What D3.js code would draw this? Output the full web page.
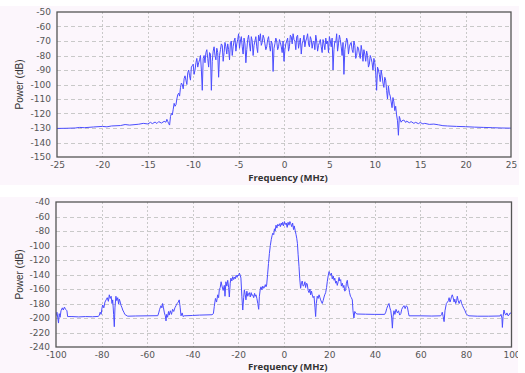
<!DOCTYPE html>
<html>
<head>
<meta charset="utf-8">
<script src="https://cdn.jsdelivr.net/npm/d3@7"></script>
<style>
  html, body { margin: 0; padding: 0; background: #fff; }
  svg { display: block; }
  .tick-label { font-family: "DejaVu Sans", Verdana, sans-serif; font-size: 9px; fill: #555; }
  .x-title { font-family: "Open Sans", "Noto Sans", sans-serif; font-size: 9.5px; font-weight: bold; fill: #333; }
  .y-title { font-family: "Liberation Sans Narrow", "Liberation Sans", sans-serif; font-size: 10px; fill: #333; }
</style>
</head>
<body>
<svg id="chart" width="525" height="373"></svg>
<script>
// ---- data ----
const topXTicks = [-25, -20, -15, -10, -5, 0, 5, 10, 15, 20, 25];
const topYTicks = [-50, -60, -70, -80, -90, -100, -110, -120, -130, -140, -150];
const botXTicks = [-100, -80, -60, -40, -20, 0, 20, 40, 60, 80, 100];
const botYTicks = [-40, -60, -80, -100, -120, -140, -160, -180, -200, -220, -240];

// top trace: [frequency MHz, power dB]
const topLeftTail = [[-25,-130.3],[-24,-130.2],[-23,-130],[-22.5,-129.6],[-22,-129.8],[-21,-129.3],[-20,-128.9],[-19.5,-129.2],[-19,-128.6],[-18,-128.3],[-17.5,-127.6],[-17,-128],[-16,-127.4],[-15.5,-126.8],[-15,-127.2],[-14.7,-126.1],[-14.5,-127],[-14.2,-125.9],[-14,-126.9],[-13.8,-125.6],[-13.5,-126.6],[-13.2,-125.4]];
const topBand = [[-13,-126],[-12.8,-125.5],[-12.6,-128],[-12.4,-120],[-12.2,-117],[-12,-115],[-11.8,-110],[-11.6,-106],[-11.4,-102],[-11.2,-100],[-11,-96],[-10.8,-97],[-10.6,-92],[-10.4,-94],[-10.2,-88],[-10,-86],[-9.8,-90],[-9.6,-82],[-9.4,-85],[-9.2,-80],[-9,-104],[-8.8,-80],[-8.6,-78],[-8.4,-82],[-8.2,-78],[-8,-104],[-7.8,-77],[-7.6,-80],[-7.4,-75],[-7.2,-95],[-7,-76],[-6.8,-73],[-6.6,-78],[-6.4,-74],[-6.2,-72],[-6,-83],[-5.8,-70],[-5.6,-74],[-5.4,-68],[-5.2,-72],[-5,-65],[-4.8,-70],[-4.6,-74],[-4.4,-68],[-4.2,-85],[-4,-69],[-3.8,-72],[-3.6,-67],[-3.4,-80],[-3.2,-70],[-3,-74],[-2.8,-66],[-2.6,-65],[-2.4,-71],[-2.2,-68],[-2,-76],[-1.8,-69],[-1.6,-73],[-1.4,-70],[-1.2,-91],[-1,-72],[-0.8,-70],[-0.6,-74],[-0.4,-71],[-0.2,-78],[0,-84],[0.2,-72],[0.4,-68],[0.6,-74],[0.8,-67],[1,-65],[1.2,-70],[1.4,-67],[1.6,-75],[1.8,-68],[2,-72],[2.2,-66],[2.4,-70],[2.6,-65],[2.8,-74],[3,-69],[3.2,-71],[3.4,-76],[3.6,-70],[3.8,-73],[4,-69],[4.2,-78],[4.4,-72],[4.6,-68],[4.8,-70],[5,-67],[5.2,-74],[5.4,-90],[5.6,-70],[5.8,-65],[6,-72],[6.2,-69],[6.4,-80],[6.6,-93],[6.8,-72],[7,-70],[7.2,-74],[7.4,-71],[7.6,-78],[7.8,-73],[8,-80],[8.2,-75],[8.4,-82],[8.6,-77],[8.8,-76],[9,-84],[9.2,-80],[9.4,-86],[9.6,-82],[9.8,-90],[10,-85],[10.2,-104],[10.4,-90],[10.6,-98],[10.8,-94],[11,-102],[11.2,-97],[11.4,-110],[11.6,-106],[11.8,-112],[12,-109],[12.2,-118],[12.4,-121],[12.6,-135],[12.8,-124],[13,-125]];
const topBandMid = [[-12.9,-124],[-12.7,-127],[-12.5,-122],[-12.3,-121],[-12.1,-113],[-11.9,-114],[-11.7,-107],[-11.5,-108],[-11.3,-99],[-11.1,-103],[-10.9,-94],[-10.7,-100],[-10.5,-90],[-10.3,-97],[-10.1,-87],[-9.9,-93],[-9.7,-85],[-9.5,-88],[-9.3,-83],[-9.1,-90],[-8.9,-82],[-8.7,-85],[-8.5,-76],[-8.3,-88],[-8.1,-79],[-7.9,-84],[-7.7,-74],[-7.5,-83],[-7.3,-78],[-7.1,-80],[-6.9,-72],[-6.7,-84],[-6.5,-71],[-6.3,-79],[-6.1,-76],[-5.9,-71],[-5.7,-80],[-5.5,-70],[-5.3,-77],[-5.1,-69],[-4.9,-75],[-4.7,-67],[-4.5,-79],[-4.3,-72],[-4.1,-76],[-3.9,-66],[-3.7,-77],[-3.5,-70],[-3.3,-73],[-3.1,-67],[-2.9,-78],[-2.7,-70],[-2.5,-73],[-2.3,-66],[-2.1,-72],[-1.9,-74],[-1.7,-67],[-1.5,-77],[-1.3,-72],[-1.1,-75],[-0.9,-68],[-0.7,-76],[-0.5,-69],[-0.3,-74],[-0.1,-70],[0.1,-76],[0.3,-70],[0.5,-77],[0.7,-66],[0.9,-72],[1.1,-69],[1.3,-76],[1.5,-66],[1.7,-71],[1.9,-79],[2.1,-70],[2.3,-74],[2.5,-68],[2.7,-72],[2.9,-67],[3.1,-75],[3.3,-70],[3.5,-66],[3.7,-77],[3.9,-71],[4.1,-74],[4.3,-69],[4.5,-76],[4.7,-72],[4.9,-78],[5.1,-70],[5.3,-68],[5.5,-76],[5.7,-71],[5.9,-77],[6.1,-66],[6.3,-74],[6.5,-71],[6.7,-76],[6.9,-68],[7.1,-79],[7.3,-72],[7.5,-76],[7.7,-70],[7.9,-82],[8.1,-74],[8.3,-79],[8.5,-73],[8.7,-84],[8.9,-79],[9.1,-77],[9.3,-88],[9.5,-80],[9.7,-85],[9.9,-82],[10.1,-92],[10.3,-88],[10.5,-93],[10.7,-90],[10.9,-99],[11.1,-95],[11.3,-104],[11.5,-101],[11.7,-108],[11.9,-116],[12.1,-112],[12.3,-115],[12.5,-125],[12.7,-122],[12.9,-126]];
const topRightTail = [[13.2,-124.5],[13.4,-126.2],[13.5,-125.2],[13.8,-126.4],[14,-125.6],[14.3,-126.8],[14.5,-126.1],[14.8,-127],[15,-126.2],[15.3,-127.2],[15.5,-126.8],[16,-127.5],[16.5,-127.3],[17,-127.8],[17.5,-128.4],[18,-128.6],[19,-128.9],[20,-129.1],[21,-129.4],[22,-129.6],[23,-129.8],[24,-130],[25,-130.1]];

// bottom trace: [frequency MHz, power dB]
const botTrace = [[-100,-197],[-99.6,-192],[-99.2,-200],[-98.9,-207],[-98.6,-194],[-98.2,-199],[-97.8,-190],[-97.2,-186],[-96.8,-189],[-96.3,-185],[-95.8,-188],[-95.2,-190],[-94.9,-198],[-93,-198],[-90,-198.5],[-87,-198],[-84,-198.3],[-81.5,-197.8],[-81,-196.5],[-80.6,-192],[-80.2,-195],[-79.8,-186],[-79.5,-182],[-79,-186],[-78.5,-178],[-78,-175],[-77.5,-172],[-77,-177],[-76.6,-168],[-76.2,-173],[-75.8,-170],[-75.4,-180],[-75.1,-175],[-74.7,-195],[-74.4,-212],[-74.1,-185],[-73.7,-170],[-73.3,-176],[-72.9,-172],[-72.5,-181],[-72.2,-174],[-71.8,-178],[-71.4,-183],[-71,-186],[-70.7,-189],[-70.2,-192],[-69.8,-195],[-69.3,-196],[-68.5,-197.5],[-65,-197.2],[-60,-197],[-55.3,-196.8],[-54.9,-193],[-54.5,-188],[-53.9,-183],[-53.5,-186],[-53.2,-180],[-52.8,-186],[-52.4,-193],[-52,-197],[-51.7,-204],[-51.4,-195],[-51,-199],[-50.6,-191],[-50.3,-196],[-49.8,-190],[-49.3,-195],[-48.8,-188],[-48.3,-191],[-47.8,-186],[-47.3,-183],[-46.8,-180],[-46.3,-178],[-45.9,-175],[-45.5,-185],[-45.1,-197],[-44.6,-193],[-44.2,-198],[-43.7,-197],[-40,-196.5],[-37,-196],[-31.5,-195.5],[-30.9,-194],[-30.5,-184],[-30,-173],[-29.5,-178],[-29,-168],[-28.6,-172],[-28.3,-161],[-27.9,-158],[-27.5,-150],[-27.1,-156],[-26.6,-162],[-26.1,-155],[-25.8,-170],[-25.4,-150],[-25,-156],[-24.6,-148],[-24.2,-158],[-23.9,-171],[-23.5,-152],[-23.2,-145],[-22.8,-149],[-22.4,-143],[-22,-147],[-21.7,-143.6],[-21.3,-146],[-20.9,-141],[-20.5,-144],[-20.2,-140.7],[-19.8,-142],[-19.5,-138],[-19.1,-141],[-18.8,-145],[-18.4,-170],[-18,-189],[-17.6,-172],[-17.3,-161],[-16.9,-168],[-16.6,-175],[-16.2,-163],[-15.8,-170],[-15.4,-166],[-15.1,-165],[-14.7,-171],[-14.3,-165],[-14,-169],[-13.6,-168],[-13.2,-172],[-12.8,-166],[-12.5,-170],[-12.2,-168],[-11.8,-173],[-11.4,-180],[-11,-188],[-10.7,-170],[-10.3,-160],[-10,-157],[-9.6,-161],[-9.2,-156],[-8.8,-159],[-8.5,-158],[-8.1,-154],[-7.8,-157],[-7.5,-154.5],[-7.1,-140],[-6.7,-125],[-6.3,-111],[-5.9,-100],[-5.5,-92],[-5.1,-86],[-4.8,-83],[-4.4,-85],[-4.1,-77],[-3.8,-80],[-3.4,-72],[-3,-76],[-2.7,-71],[-2.3,-73],[-1.9,-70],[-1.5,-74],[-1.1,-69],[-0.8,-72],[-0.5,-68],[-0.1,-73],[0.3,-67],[0.7,-71],[1.1,-69],[1.5,-75],[1.9,-68],[2.3,-72],[2.7,-67],[3.1,-70],[3.5,-74],[3.9,-69],[4.3,-78],[4.6,-73],[5,-79],[5.4,-85],[5.7,-90],[6,-97],[6.3,-112],[6.7,-129],[7,-145],[7.4,-159],[7.7,-153],[8.1,-149],[8.5,-156],[8.9,-155],[9.3,-150],[9.6,-158],[10,-152],[10.3,-153],[10.7,-162],[11.1,-165],[11.5,-160],[11.8,-168],[12.2,-163],[12.5,-168],[12.9,-172],[13.3,-170],[13.7,-185],[14,-198],[14.3,-180],[14.7,-170],[15.1,-173],[15.5,-168],[15.9,-172],[16.2,-175],[16.6,-178],[16.9,-180],[17.3,-176],[17.7,-171],[18,-168],[18.4,-165],[18.8,-158],[19.1,-150],[19.5,-142],[19.9,-136],[20.2,-139],[20.6,-141],[20.9,-138],[21.3,-146],[21.7,-142],[22.1,-148],[22.4,-145],[22.8,-152],[23.1,-149],[23.5,-155],[23.9,-150],[24.3,-144],[24.6,-149],[25,-147],[25.3,-156],[25.7,-152],[26.1,-158],[26.4,-155],[26.8,-163],[27.2,-161],[27.5,-152],[27.9,-148],[28.2,-156],[28.6,-159],[28.9,-165],[29.3,-170],[29.7,-172],[30.1,-175],[30.4,-190],[30.8,-200],[31.2,-191],[31.6,-193],[32,-194.5],[36,-194.8],[40,-195],[44.3,-195],[44.8,-192],[45.2,-187],[45.7,-183],[46.2,-180],[46.6,-186],[47,-190],[47.4,-200],[47.7,-214],[48,-198],[48.4,-190],[48.8,-195],[49.3,-188],[49.9,-193],[50.4,-190],[50.9,-196],[51.4,-194],[51.8,-188],[52.3,-185],[52.8,-183],[53.3,-187],[53.8,-183],[54.3,-185],[54.7,-192],[55,-197],[60,-197],[65,-197.3],[68.9,-197],[69.3,-195],[69.6,-192],[70,-198],[70.4,-205],[70.8,-190],[71.4,-180],[71.9,-178],[72.3,-176],[72.6,-172],[73,-178],[73.3,-175],[73.7,-170],[74,-168],[74.4,-172],[74.8,-178],[75.1,-174],[75.5,-180],[75.9,-176],[76.2,-170],[76.6,-176],[77,-180],[77.3,-177],[77.7,-175],[78.1,-180],[78.5,-183],[79.1,-187],[79.6,-190],[80.1,-194],[80.6,-196],[81.3,-197],[85,-197.5],[90,-197.5],[95,-197.2],[95.4,-195],[95.8,-200],[96,-213],[96.3,-198],[96.7,-189],[97.1,-194],[97.5,-196],[98,-193],[98.5,-197],[98.9,-196],[99.4,-193],[100,-194]];

const svg = d3.select('#chart');

function drawPanel(opts) {
  const p = opts.panel, m = opts.plot;
  const clipId = opts.id + '-clip';
  const plotClipId = opts.id + '-plot';

  svg.append('clipPath').attr('id', clipId)
    .append('rect').attr('x', p.x).attr('y', p.y).attr('width', p.w).attr('height', p.h);
  svg.append('clipPath').attr('id', plotClipId)
    .append('rect').attr('x', m.left).attr('y', m.top)
    .attr('width', m.right - m.left).attr('height', m.bottom - m.top);

  const g = svg.append('g').attr('clip-path', `url(#${clipId})`);
  g.append('rect').attr('x', p.x).attr('y', p.y).attr('width', p.w).attr('height', p.h)
    .attr('fill', '#fcf6fc');

  const x = d3.scaleLinear().domain(opts.xDomain).range([m.left, m.right]);
  const y = d3.scaleLinear().domain(opts.yDomain).range([m.bottom, m.top]);

  // grid
  g.append('g').selectAll('line')
    .data(opts.yTicks.filter(d => d !== opts.yDomain[0] && d !== opts.yDomain[1]))
    .join('line')
      .attr('x1', m.left).attr('x2', m.right)
      .attr('y1', d => Math.round(y(d)) + 0.5).attr('y2', d => Math.round(y(d)) + 0.5)
      .attr('stroke', '#c9c9c9').attr('stroke-dasharray', '4,3');
  g.append('g').selectAll('line')
    .data(opts.xTicks.filter(d => d !== opts.xDomain[0] && d !== opts.xDomain[1]))
    .join('line')
      .attr('x1', d => Math.round(x(d)) + 0.5).attr('x2', d => Math.round(x(d)) + 0.5)
      .attr('y1', m.top).attr('y2', m.bottom)
      .attr('stroke', '#c9c9c9').attr('stroke-dasharray', '2,2');

  // axes (labels only, the frame is drawn separately)
  const xAxis = g.append('g').attr('transform', `translate(0,${m.bottom})`)
    .call(d3.axisBottom(x).tickValues(opts.xTicks).tickSize(0).tickPadding(5).tickFormat(d3.format('d')));
  const yAxis = g.append('g').attr('transform', `translate(${m.left},0)`)
    .call(d3.axisLeft(y).tickValues(opts.yTicks).tickSize(0).tickPadding(6).tickFormat(d3.format('d')));
  [xAxis, yAxis].forEach(a => {
    a.select('.domain').remove();
    a.selectAll('text').attr('class', 'tick-label');
    a.attr('font-family', null).attr('font-size', null);
  });
  // ASCII hyphen-minus like the reference
  g.selectAll('.tick-label').text(function () { return d3.select(this).text().replace('\u2212', '-'); });

  // trace
  const line = d3.line().x(d => x(d[0])).y(d => y(d[1]));
  g.append('g').attr('clip-path', `url(#${plotClipId})`)
    .selectAll('path')
    .data(opts.series)
    .join('path')
      .attr('d', line)
      .attr('fill', 'none')
      .attr('stroke', '#4b4dff')
      .attr('stroke-width', 1)
      .attr('stroke-linejoin', 'round');

  // frame
  g.append('rect')
    .attr('x', m.left).attr('y', m.top)
    .attr('width', m.right - m.left).attr('height', m.bottom - m.top)
    .attr('fill', 'none').attr('stroke', '#555').attr('stroke-width', 1.3);

  // titles
  g.append('text').attr('class', 'x-title')
    .attr('x', (m.left + m.right) / 2 + 4).attr('y', opts.xTitleY)
    .attr('text-anchor', 'middle').text('Frequency (MHz)');
  g.append('text').attr('class', 'y-title')
    .attr('transform', `translate(23,${(m.top + m.bottom) / 2}) rotate(-90)`)
    .attr('text-anchor', 'middle').text('Power (dB)');
}

const topSeries = topLeftTail.concat(topBand, topBandMid, topRightTail)
  .sort((a, b) => a[0] - b[0]);

drawPanel({
  id: 'top',
  panel: {x: 0, y: 6, w: 519, h: 179},
  plot: {left: 57, right: 511, top: 12, bottom: 157},
  xDomain: [-25, 25], yDomain: [-150, -50],
  xTicks: topXTicks, yTicks: topYTicks,
  series: [topSeries],
  xTitleY: 181
});

drawPanel({
  id: 'bottom',
  panel: {x: 0, y: 197, w: 518, h: 176},
  plot: {left: 56, right: 511.5, top: 202, bottom: 347},
  xDomain: [-100, 100], yDomain: [-240, -40],
  xTicks: botXTicks, yTicks: botYTicks,
  series: [botTrace],
  xTitleY: 369.5
});
</script>
</body>
</html>
